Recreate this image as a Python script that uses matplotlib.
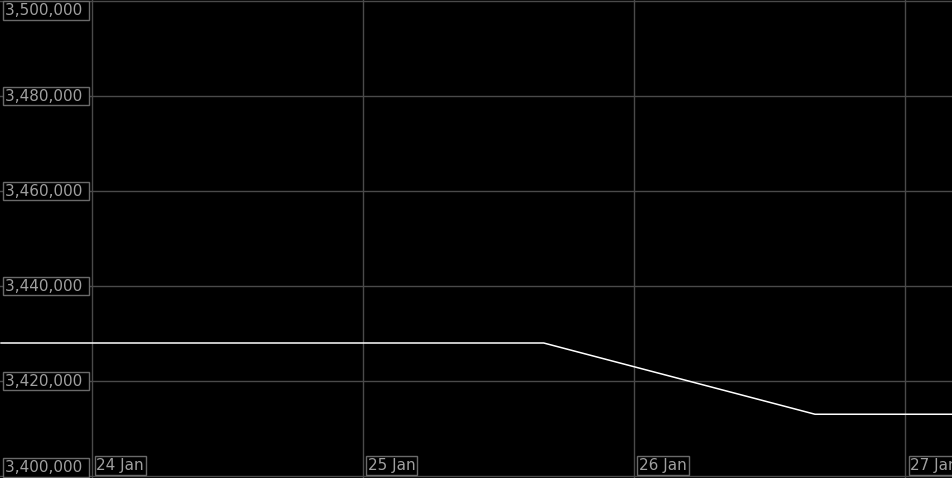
import datetime as dt
import matplotlib
matplotlib.use('Agg')
import matplotlib.pyplot as plt
import matplotlib.dates as mdates

# daily closing values
dates = [dt.datetime(2024, 1, d, 16, 0) for d in [23, 24, 25, 26, 27]]
values = [3428000, 3428000, 3428000, 3413000, 3413000]

y_ticks = [3400000, 3420000, 3440000, 3460000, 3480000, 3500000]
x_ticks = [dt.datetime(2024, 1, d) for d in [24, 25, 26, 27]]
x_labels = ['24 Jan', '25 Jan', '26 Jan', '27 Jan']

bg = '#000000'
grid_col = '#4a4a4a'
txt_col = '#a0a0a0'
box_col = '#6a6a6a'

fig = plt.figure(figsize=(9.53, 4.78), dpi=100, facecolor=bg)
ax = fig.add_axes([0, 0, 1, 1], facecolor=bg)

ax.plot(mdates.date2num(dates), values, color='white', lw=1.1)

# axis ranges: 24 Jan grid at ~91px, 271.3px per day
day0 = mdates.date2num(x_ticks[0])
ax.set_xlim(day0 - 91.5 / 271.33, day0 + (953 - 91.5) / 271.33)
ax.set_ylim(3400000 - 2 / 475 * 100000, 3500000 + 1 / 475 * 100000)

ax.set_xticks(mdates.date2num(x_ticks))
ax.set_yticks(y_ticks)
ax.grid(True, color=grid_col, lw=1)
ax.tick_params(left=False, bottom=False, labelleft=False, labelbottom=False)
for s in ax.spines.values():
    s.set_visible(False)

box = dict(boxstyle='square,pad=0.12', fc=bg, ec=box_col, lw=1)
for v in y_ticks:
    lab = f'{v:,} '
    if v == y_ticks[-1]:
        ax.annotate(lab, (0, 1), xycoords='axes fraction', xytext=(5, -3),
                    textcoords='offset pixels', va='top', ha='left',
                    color=txt_col, fontsize=11, bbox=box)
    elif v == y_ticks[0]:
        ax.annotate(lab, (0, 0), xycoords='axes fraction', xytext=(5, 3),
                    textcoords='offset pixels', va='bottom', ha='left',
                    color=txt_col, fontsize=11, bbox=box)
    else:
        ax.annotate(lab, (0, v), xycoords=('axes fraction', 'data'), xytext=(5, 0),
                    textcoords='offset pixels', va='center', ha='left',
                    color=txt_col, fontsize=11, bbox=box)

for d, lab in zip(x_ticks, x_labels):
    ax.annotate(lab, (mdates.date2num(d), 0), xycoords=('data', 'axes fraction'),
                xytext=(5, 5), textcoords='offset pixels', va='bottom', ha='left',
                color=txt_col, fontsize=11, bbox=box, annotation_clip=False)

fig.savefig('out.png', dpi=100, facecolor=bg)
